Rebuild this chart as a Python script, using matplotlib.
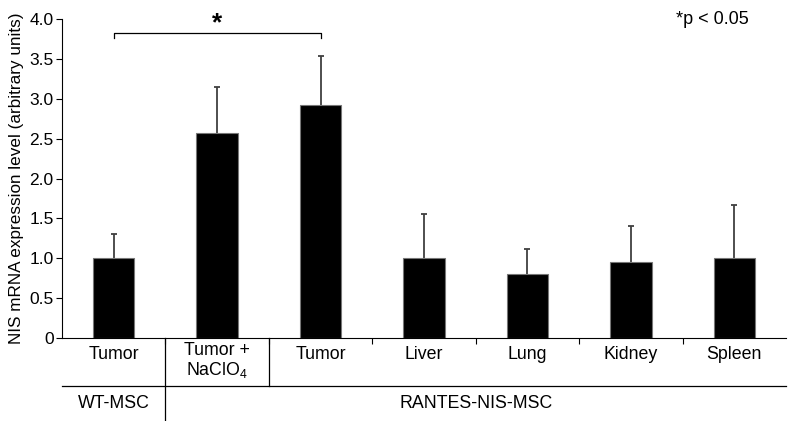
import matplotlib.pyplot as plt

plt.rcParams['font.family'] = ['Liberation Sans', 'DejaVu Sans']
plt.rcParams['mathtext.fontset'] = 'custom'
plt.rcParams['mathtext.rm'] = 'Liberation Sans'
plt.rcParams['mathtext.it'] = 'Liberation Sans:italic'

# data
labels = ['Tumor', 'Tumor +\nNaClO$_4$', 'Tumor', 'Liver', 'Lung', 'Kidney', 'Spleen']
values = [1.0, 2.57, 2.92, 1.0, 0.8, 0.95, 1.0]
errors = [0.31, 0.58, 0.62, 0.56, 0.32, 0.46, 0.67]
groups = ['WT-MSC', 'RANTES-NIS-MSC']

fig = plt.figure(figsize=(7.92, 4.21), dpi=100)
ax = fig.add_axes([0.0783, 0.197, 0.9141, 0.758])

x = list(range(len(values)))
ax.bar(x, values, width=0.4, color='black', edgecolor='#777777', linewidth=0.8, zorder=2)
eb = ax.errorbar(x, values, yerr=[[0] * len(errors), errors], fmt='none',
                 ecolor='#404040', elinewidth=1.3, capsize=2.5, capthick=1.3, zorder=1)
eb[1][0].set_visible(False)  # no lower caps

ax.set_xlim(-0.5, 6.5)
ax.set_ylim(0, 4.0)
ax.set_yticks([0, 0.5, 1.0, 1.5, 2.0, 2.5, 3.0, 3.5, 4.0])
ax.set_yticklabels(['0', '0.5', '1.0', '1.5', '2.0', '2.5', '3.0', '3.5', '4.0'], fontsize=12.5)
ax.set_ylabel('NIS mRNA expression level (arbitrary units)', fontsize=12.3, labelpad=4)

ax.spines['top'].set_visible(False)
ax.spines['right'].set_visible(False)
ax.tick_params(axis='y', direction='out', length=4, width=0.8, pad=2)

# boundary ticks
ax.set_xticks([i + 0.5 for i in range(6)])
ax.set_xticklabels([])
ax.tick_params(axis='x', direction='out', length=4, width=0.8)

tr = ax.get_xaxis_transform()
for i, lab in enumerate(labels):
    yy = -0.072 if '\n' in lab else -0.053
    ax.text(i, yy, lab, transform=tr, ha='center', va='center', fontsize=12.8, linespacing=1.05)

# lines below the axis
ax.plot([-0.5, 6.5], [-0.15, -0.15], transform=tr, color='black', lw=0.9, clip_on=False)
ax.plot([0.5, 0.5], [0, -0.262], transform=tr, color='black', lw=0.9, clip_on=False)
ax.plot([1.5, 1.5], [0, -0.15], transform=tr, color='black', lw=0.9, clip_on=False)

ax.text(0, -0.205, groups[0], transform=tr, ha='center', va='center', fontsize=12.8)
ax.text(3.5, -0.205, groups[1], transform=tr, ha='center', va='center', fontsize=12.8)

# significance bracket
ax.plot([0, 0, 2, 2], [3.76, 3.82, 3.82, 3.76], color='black', lw=0.9)
ax.text(1, 3.8, '*', ha='center', va='bottom', fontsize=19, fontweight='bold')
ax.text(0.899, 0.975, '*p < 0.05', transform=fig.transFigure, ha='center', va='top', fontsize=13)

fig.savefig('out.png', dpi=100)
